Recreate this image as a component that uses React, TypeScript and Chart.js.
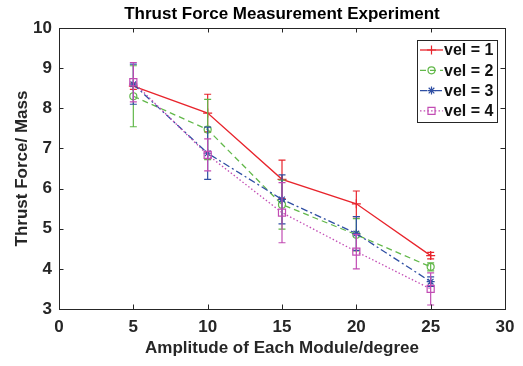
import React, { useEffect, useRef } from 'react';
import { Chart, registerables } from 'chart.js';

Chart.register(...registerables);

const titleText = 'Thrust Force Measurement Experiment';
const xTitle = 'Amplitude of Each Module/degree';
const yTitle = 'Thrust Force/ Mass';

const xValues = [5, 10, 15, 20, 25];
const seriesLabels = ['vel = 1', 'vel = 2', 'vel = 3', 'vel = 4'];

const vel1 = [8.55, 7.88, 6.23, 5.62, 4.33];
const vel1Err = [0.08, 0.47, 0.48, 0.32, 0.08];
const vel2 = [8.3, 7.47, 5.6, 4.85, 4.05];
const vel2Err = [0.76, 0.75, 0.61, 0.4, 0.1];
const vel3 = [8.6, 6.88, 5.73, 4.88, 3.68];
const vel3Err = [0.5, 0.65, 0.61, 0.42, 0.12];
const vel4 = [8.65, 6.84, 5.4, 4.43, 3.5];
const vel4Err = [0.49, 0.4, 0.75, 0.43, 0.4];

const seriesValues = [vel1, vel2, vel3, vel4];
const seriesErrors = [vel1Err, vel2Err, vel3Err, vel4Err];

const colors = ['#e8242c', '#62b84a', '#2f4fa3', '#c24cb4'];
const dashes: number[][] = [[], [6, 4], [7, 3, 2, 3], [1.5, 2.2]];
const markers = ['cross', 'circle', 'star', 'rect'];
const markerRadius = [4.5, 3.5, 4, 5];

const AXIS_COLOR = '#262626';
const FONT = '"Liberation Sans", Arial, Helvetica, sans-serif';

function drawMarker(ctx: CanvasRenderingContext2D, style: string, x: number, y: number, r: number, color: string) {
  ctx.save();
  ctx.strokeStyle = color;
  ctx.lineWidth = 1.2;
  ctx.setLineDash([]);
  ctx.beginPath();
  if (style === 'cross') {
    ctx.moveTo(x - r, y); ctx.lineTo(x + r, y);
    ctx.moveTo(x, y - r); ctx.lineTo(x, y + r);
  } else if (style === 'circle') {
    ctx.arc(x, y, r, 0, Math.PI * 2);
  } else if (style === 'star') {
    ctx.moveTo(x - r, y); ctx.lineTo(x + r, y);
    ctx.moveTo(x, y - r); ctx.lineTo(x, y + r);
    const d = r * Math.SQRT1_2;
    ctx.moveTo(x - d, y - d); ctx.lineTo(x + d, y + d);
    ctx.moveTo(x - d, y + d); ctx.lineTo(x + d, y - d);
  } else if (style === 'rect') {
    const s = r * Math.SQRT1_2;
    ctx.rect(x - s, y - s, 2 * s, 2 * s);
  }
  ctx.stroke();
  ctx.restore();
}

const errorBarPlugin = {
  id: 'errorBars',
  afterDatasetDraw(chart: any, args: any) {
    const ds = chart.data.datasets[args.index];
    const errs: number[] = ds.errors;
    if (!errs) return;
    const { ctx, scales } = chart;
    const xs = scales.x;
    const ys = scales.y;
    ctx.save();
    ctx.strokeStyle = ds.borderColor;
    ctx.lineWidth = 1.2;
    ctx.setLineDash([]);
    ds.data.forEach((p: any, i: number) => {
      const px = xs.getPixelForValue(p.x);
      const top = ys.getPixelForValue(p.y + errs[i]);
      const bot = ys.getPixelForValue(p.y - errs[i]);
      const cap = 3.5;
      ctx.beginPath();
      ctx.moveTo(px, top); ctx.lineTo(px, bot);
      ctx.moveTo(px - cap, top); ctx.lineTo(px + cap, top);
      ctx.moveTo(px - cap, bot); ctx.lineTo(px + cap, bot);
      ctx.stroke();
    });
    ctx.restore();
  },
};

const boxPlugin = {
  id: 'boxTicks',
  afterDraw(chart: any) {
    const { ctx, chartArea, scales } = chart;
    const { left, right, top, bottom } = chartArea;
    ctx.save();
    ctx.strokeStyle = AXIS_COLOR;
    ctx.lineWidth = 1;
    ctx.setLineDash([]);
    ctx.strokeRect(left + 0.5, top + 0.5, right - left, bottom - top);
    const tl = 4.5;
    ctx.beginPath();
    scales.x.ticks.forEach((t: any) => {
      const px = Math.round(scales.x.getPixelForValue(t.value)) + 0.5;
      ctx.moveTo(px, bottom); ctx.lineTo(px, bottom - tl);
      ctx.moveTo(px, top); ctx.lineTo(px, top + tl);
    });
    scales.y.ticks.forEach((t: any) => {
      const py = Math.round(scales.y.getPixelForValue(t.value)) + 0.5;
      ctx.moveTo(left, py); ctx.lineTo(left + tl, py);
      ctx.moveTo(right, py); ctx.lineTo(right - tl, py);
    });
    ctx.stroke();
    // title centred over the plot area
    ctx.fillStyle = '#000000';
    ctx.font = `bold 17px ${FONT}`;
    ctx.textAlign = 'center';
    ctx.textBaseline = 'middle';
    ctx.fillText(titleText, (left + right) / 2, 14.5);
    ctx.restore();
  },
};

const legendPlugin = {
  id: 'matLegend',
  afterDraw(chart: any) {
    const { ctx } = chart;
    const bx = 417, by = 40, bw = 80, bh = 82;
    ctx.save();
    ctx.fillStyle = '#ffffff';
    ctx.fillRect(bx, by, bw, bh);
    ctx.strokeStyle = AXIS_COLOR;
    ctx.lineWidth = 1;
    ctx.setLineDash([]);
    ctx.strokeRect(bx + 0.5, by + 0.5, bw, bh);
    chart.data.datasets.forEach((ds: any, i: number) => {
      const cy = by + 10 + i * 20.3;
      ctx.save();
      ctx.strokeStyle = ds.borderColor;
      ctx.lineWidth = 1.3;
      ctx.setLineDash(ds.borderDash || []);
      ctx.beginPath();
      ctx.moveTo(bx + 3, cy);
      ctx.lineTo(bx + 26, cy);
      ctx.stroke();
      ctx.restore();
      drawMarker(ctx, ds.pointStyle, bx + 14.5, cy, ds.pointRadius, ds.borderColor);
      ctx.fillStyle = '#111111';
      ctx.font = `bold 16px ${FONT}`;
      ctx.textAlign = 'left';
      ctx.textBaseline = 'middle';
      ctx.fillText(ds.label, bx + 27, cy + 1);
    });
    ctx.restore();
  },
};

export default function App() {
  const ref = useRef<HTMLCanvasElement | null>(null);

  useEffect(() => {
    if (!ref.current) return;
    const datasets = seriesValues.map((vals, i) => ({
      label: seriesLabels[i],
      data: xValues.map((x, j) => ({ x, y: vals[j] })),
      errors: seriesErrors[i],
      borderColor: colors[i],
      backgroundColor: colors[i],
      borderWidth: 1.3,
      borderDash: dashes[i],
      pointStyle: markers[i],
      pointRadius: markerRadius[i],
      pointBorderWidth: 1.2,
      pointBackgroundColor: 'rgba(0,0,0,0)',
      pointBorderColor: colors[i],
      tension: 0,
      fill: false,
      order: 3 - i,
    }));
    const chart = new Chart(ref.current, {
      type: 'line',
      data: { datasets } as any,
      options: {
        animation: false,
        responsive: false,
        devicePixelRatio: 1,
        layout: { padding: { left: 0, right: 18, top: 28, bottom: 0 } },
        plugins: {
          legend: { display: false },
          tooltip: { enabled: false },
          title: { display: false },
        },
        scales: {
          x: {
            type: 'linear',
            min: 0,
            max: 30,
            afterFit: (s: any) => { s.height = 57; },
            ticks: {
              stepSize: 5,
              color: AXIS_COLOR,
              padding: 8,
              font: { family: FONT, size: 17, weight: 'bold' },
              maxRotation: 0,
            },
            grid: { display: false, drawTicks: false },
            border: { display: false },
            title: {
              display: true,
              text: xTitle,
              color: AXIS_COLOR,
              font: { family: FONT, size: 17, weight: 'bold', lineHeight: 1.2 },
              padding: { top: 0, bottom: 7 },
            },
          },
          y: {
            type: 'linear',
            min: 3,
            max: 10,
            afterFit: (s: any) => { s.width = 59; },
            ticks: {
              stepSize: 1,
              color: AXIS_COLOR,
              padding: 7,
              font: { family: FONT, size: 17, weight: 'bold' },
            },
            grid: { display: false, drawTicks: false },
            border: { display: false },
            title: {
              display: true,
              text: yTitle,
              color: AXIS_COLOR,
              font: { family: FONT, size: 17, weight: 'bold', lineHeight: 1.2 },
              padding: { top: 12, bottom: 0 },
            },
          },
        },
      } as any,
      plugins: [errorBarPlugin, boxPlugin, legendPlugin],
    });
    return () => chart.destroy();
  }, []);

  return (
    <div style={{ position: 'fixed', left: 0, top: 0, width: 523, height: 366, background: '#ffffff' }}>
      <canvas ref={ref} width={523} height={366} style={{ display: 'block', width: 523, height: 366 }} />
    </div>
  );
}
